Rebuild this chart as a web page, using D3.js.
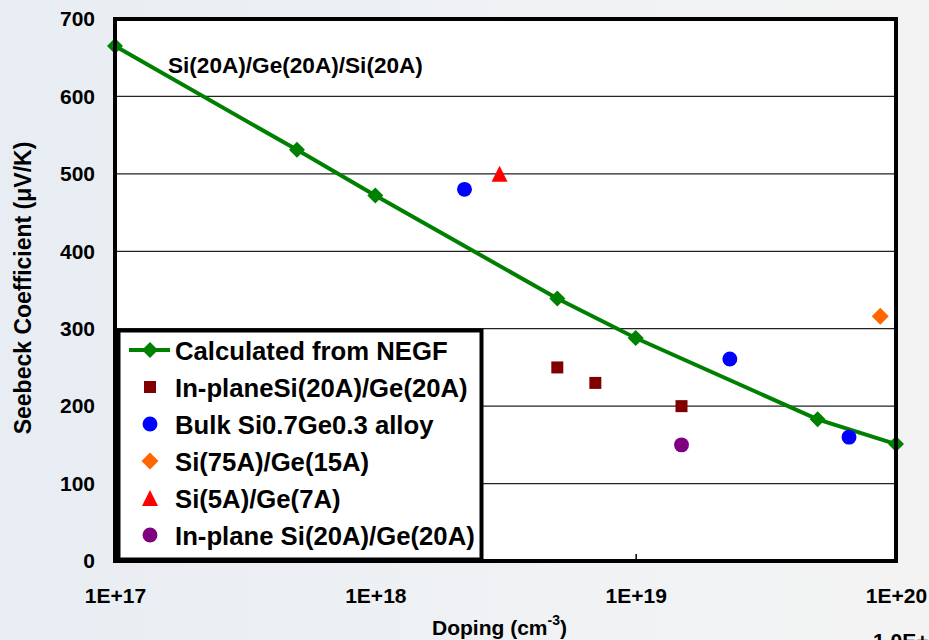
<!DOCTYPE html>
<html>
<head>
<meta charset="utf-8">
<script src="https://cdn.jsdelivr.net/npm/d3@7"></script>
<style>
    body { margin: 0; padding: 0; overflow: hidden; }
    svg { display: block; font-family: "Liberation Sans", Arial, sans-serif; font-weight: bold; }
</style>
</head>
<body>
<svg id="chart"></svg>
<script>
// Calculated from NEGF (line with diamonds)
const negfDoping = [1e17, 5e17, 1e18, 5e18, 1e19, 5e19, 1e20];
const negfSeebeck = [665, 531, 472, 339, 288, 183, 151];

// measured points
const inplaneDoping = [5e18, 7e18, 1.5e19];
const inplaneSeebeck = [250, 230, 200];
const bulkDoping = [2.2e18, 2.3e19, 6.6e19];
const bulkSeebeck = [480, 261, 160];
const si75Doping = [8.7e19];
const si75Seebeck = [316];
const si5Doping = [3e18];
const si5Seebeck = [500];
const inplane2Doping = [1.5e19];
const inplane2Seebeck = [150];

// axes
const xTicks = [1e17, 1e18, 1e19, 1e20];
const xTickLabels = ['1E+17', '1E+18', '1E+19', '1E+20'];
const yTicks = [0, 100, 200, 300, 400, 500, 600, 700];
const gridValues = [100, 200, 300, 400, 500, 600];

const legendLabels = ['Calculated from NEGF', 'In-planeSi(20A)/Ge(20A)', 'Bulk Si0.7Ge0.3 alloy',
    'Si(75A)/Ge(15A)', 'Si(5A)/Ge(7A)', 'In-plane Si(20A)/Ge(20A)'];

const width = 929
const height = 640

// plot box
const plotLeft = 115
const plotRight = 896
const plotTop = 19
const plotBottom = 561

// triangle centred on its bounding box, like the spreadsheet marker
const boxTriangle = {
    draw(context, size) {
        let s = Math.sqrt(size)
        context.moveTo(0, -s / 2)
        context.lineTo(s / 2, s / 2)
        context.lineTo(-s / 2, s / 2)
        context.closePath()
    }
}

// one entry per series: marker type, size, rotation, colour
const series = [
    {xs: inplaneDoping, ys: inplaneSeebeck, type: d3.symbolSquare, size: 144, rot: 0, color: '#800000'},
    {xs: bulkDoping, ys: bulkSeebeck, type: d3.symbolCircle, size: 175, rot: 0, color: '#0000ff'},
    {xs: si75Doping, ys: si75Seebeck, type: d3.symbolSquare, size: 144, rot: 45, color: '#ff6600'},
    {xs: si5Doping, ys: si5Seebeck, type: boxTriangle, size: 256, rot: 0, color: '#ff0000'},
    {xs: inplane2Doping, ys: inplane2Seebeck, type: d3.symbolCircle, size: 175, rot: 0, color: '#800080'}
]

let svg = d3.select('#chart')
    .attr('width', width)
    .attr('height', height)

// slide background
let defs = svg.append('defs')
let grad = defs.append('linearGradient').attr('id', 'bg').attr('x1', 0).attr('x2', 1).attr('y1', 0).attr('y2', 0)
grad.append('stop').attr('offset', 0).attr('stop-color', '#e8edf3')
grad.append('stop').attr('offset', 0.6).attr('stop-color', '#f0f2f4')
grad.append('stop').attr('offset', 1).attr('stop-color', '#f3f3f3')
svg.append('rect').attr('width', width).attr('height', height).attr('fill', 'url(#bg)')

let xScale = d3.scaleLog().domain([1e17, 1e20]).range([plotLeft, plotRight])
let yScale = d3.scaleLinear().domain([0, 700]).range([plotBottom, plotTop])

svg.append('rect')
    .attr('x', plotLeft).attr('y', plotTop)
    .attr('width', plotRight - plotLeft).attr('height', plotBottom - plotTop)
    .attr('fill', 'white')

// gridlines
svg.append('g')
    .selectAll('line')
    .data(gridValues)
    .join('line')
    .attr('x1', plotLeft).attr('x2', plotRight)
    .attr('y1', d => yScale(d)).attr('y2', d => yScale(d))
    .attr('stroke', '#222')
    .attr('stroke-width', 1.3)

// y axis
let yAxis = d3.axisLeft(yScale).tickValues(yTicks).tickSize(0).tickPadding(20)
svg.append('g').attr('transform', 'translate(' + plotLeft + ',0)').call(yAxis)
    .call(g => g.select('.domain').remove())
    .selectAll('text')
    .style('font', 'bold 21px "Liberation Sans", Arial, sans-serif')
    .attr('fill', '#000')

// x axis, ticks point into the plot
let xAxis = d3.axisBottom(xScale).tickValues(xTicks)
    .tickFormat((d, i) => xTickLabels[i]).tickSizeInner(-7).tickSizeOuter(0).tickPadding(27)
let xg = svg.append('g').attr('transform', 'translate(0,' + plotBottom + ')').call(xAxis)
xg.select('.domain').remove()
xg.selectAll('line').attr('stroke', '#000').attr('stroke-width', 1.5)
xg.selectAll('text')
    .style('font', 'bold 21px "Liberation Sans", Arial, sans-serif')
    .attr('fill', '#000')

// NEGF line
let negf = negfDoping.map((d, i) => [d, negfSeebeck[i]])
svg.append('path')
    .datum(negf)
    .attr('fill', 'none')
    .attr('stroke', '#008000')
    .attr('stroke-width', 4)
    .attr('d', d3.line().x(d => xScale(d[0])).y(d => yScale(d[1])))

svg.append('g')
    .selectAll('path')
    .data(negf)
    .join('path')
    .attr('d', d3.symbol().type(d3.symbolSquare).size(128))
    .attr('transform', d => 'translate(' + xScale(d[0]) + ',' + yScale(d[1]) + ') rotate(45)')
    .attr('fill', '#008000')

// the other series
series.forEach(function(s) {
    let pts = s.xs.map((d, i) => [d, s.ys[i]])
    svg.append('g')
        .selectAll('path')
        .data(pts)
        .join('path')
        .attr('d', d3.symbol().type(s.type).size(s.size))
        .attr('transform', d => 'translate(' + xScale(d[0]) + ',' + yScale(d[1]) + ') rotate(' + s.rot + ')')
        .attr('fill', s.color)
})

// frame of the plot
svg.append('rect')
    .attr('x', plotLeft).attr('y', plotTop)
    .attr('width', plotRight - plotLeft).attr('height', plotBottom - plotTop)
    .attr('fill', 'none')
    .attr('stroke', '#000')
    .attr('stroke-width', 4)

// annotation
svg.append('text')
    .attr('x', 168).attr('y', 73)
    .style('font-size', '22.6px')
    .text('Si(20A)/Ge(20A)/Si(20A)')

// legend
let legend = svg.append('g')
legend.append('rect')
    .attr('x', 118.5).attr('y', 330.5)
    .attr('width', 363).attr('height', 229)
    .attr('fill', 'white')
    .attr('stroke', '#000')
    .attr('stroke-width', 4)

let rowY = i => 350 + i * 37
legend.append('line')
    .attr('x1', 129).attr('x2', 170)
    .attr('y1', rowY(0)).attr('y2', rowY(0))
    .attr('stroke', '#008000').attr('stroke-width', 4)
legend.append('path')
    .attr('d', d3.symbol().type(d3.symbolSquare).size(128))
    .attr('transform', 'translate(150,' + rowY(0) + ') rotate(45)')
    .attr('fill', '#008000')
legend.selectAll('.lsym')
    .data(series)
    .join('path')
    .attr('class', 'lsym')
    .attr('d', s => d3.symbol().type(s.type).size(s.size)())
    .attr('transform', (s, i) => 'translate(150,' + rowY(i + 1) + ') rotate(' + s.rot + ')')
    .attr('fill', s => s.color)
legend.selectAll('text')
    .data(legendLabels)
    .join('text')
    .attr('x', 175)
    .attr('y', (d, i) => rowY(i) + 9.5)
    .style('font-size', '25.7px')
    .text(d => d)

// axis titles
svg.append('text')
    .attr('transform', 'translate(31,288) rotate(-90)')
    .attr('text-anchor', 'middle')
    .style('font-size', '23px')
    .text('Seebeck Coefficient (\u03bcV/K)')

let xt = svg.append('text')
    .attr('x', 432).attr('y', 635)
    .style('font-size', '21px')
xt.append('tspan').text('Doping (cm')
xt.append('tspan').attr('dy', -10).style('font-size', '14px').text('-3')
xt.append('tspan').attr('dy', 10).text(')')

// leftover label cut by the slide edge, as in the source slide
svg.append('text')
    .attr('x', 873).attr('y', 648)
    .style('font-size', '21px')
    .text('1.0E+20')
</script>
</body>
</html>
